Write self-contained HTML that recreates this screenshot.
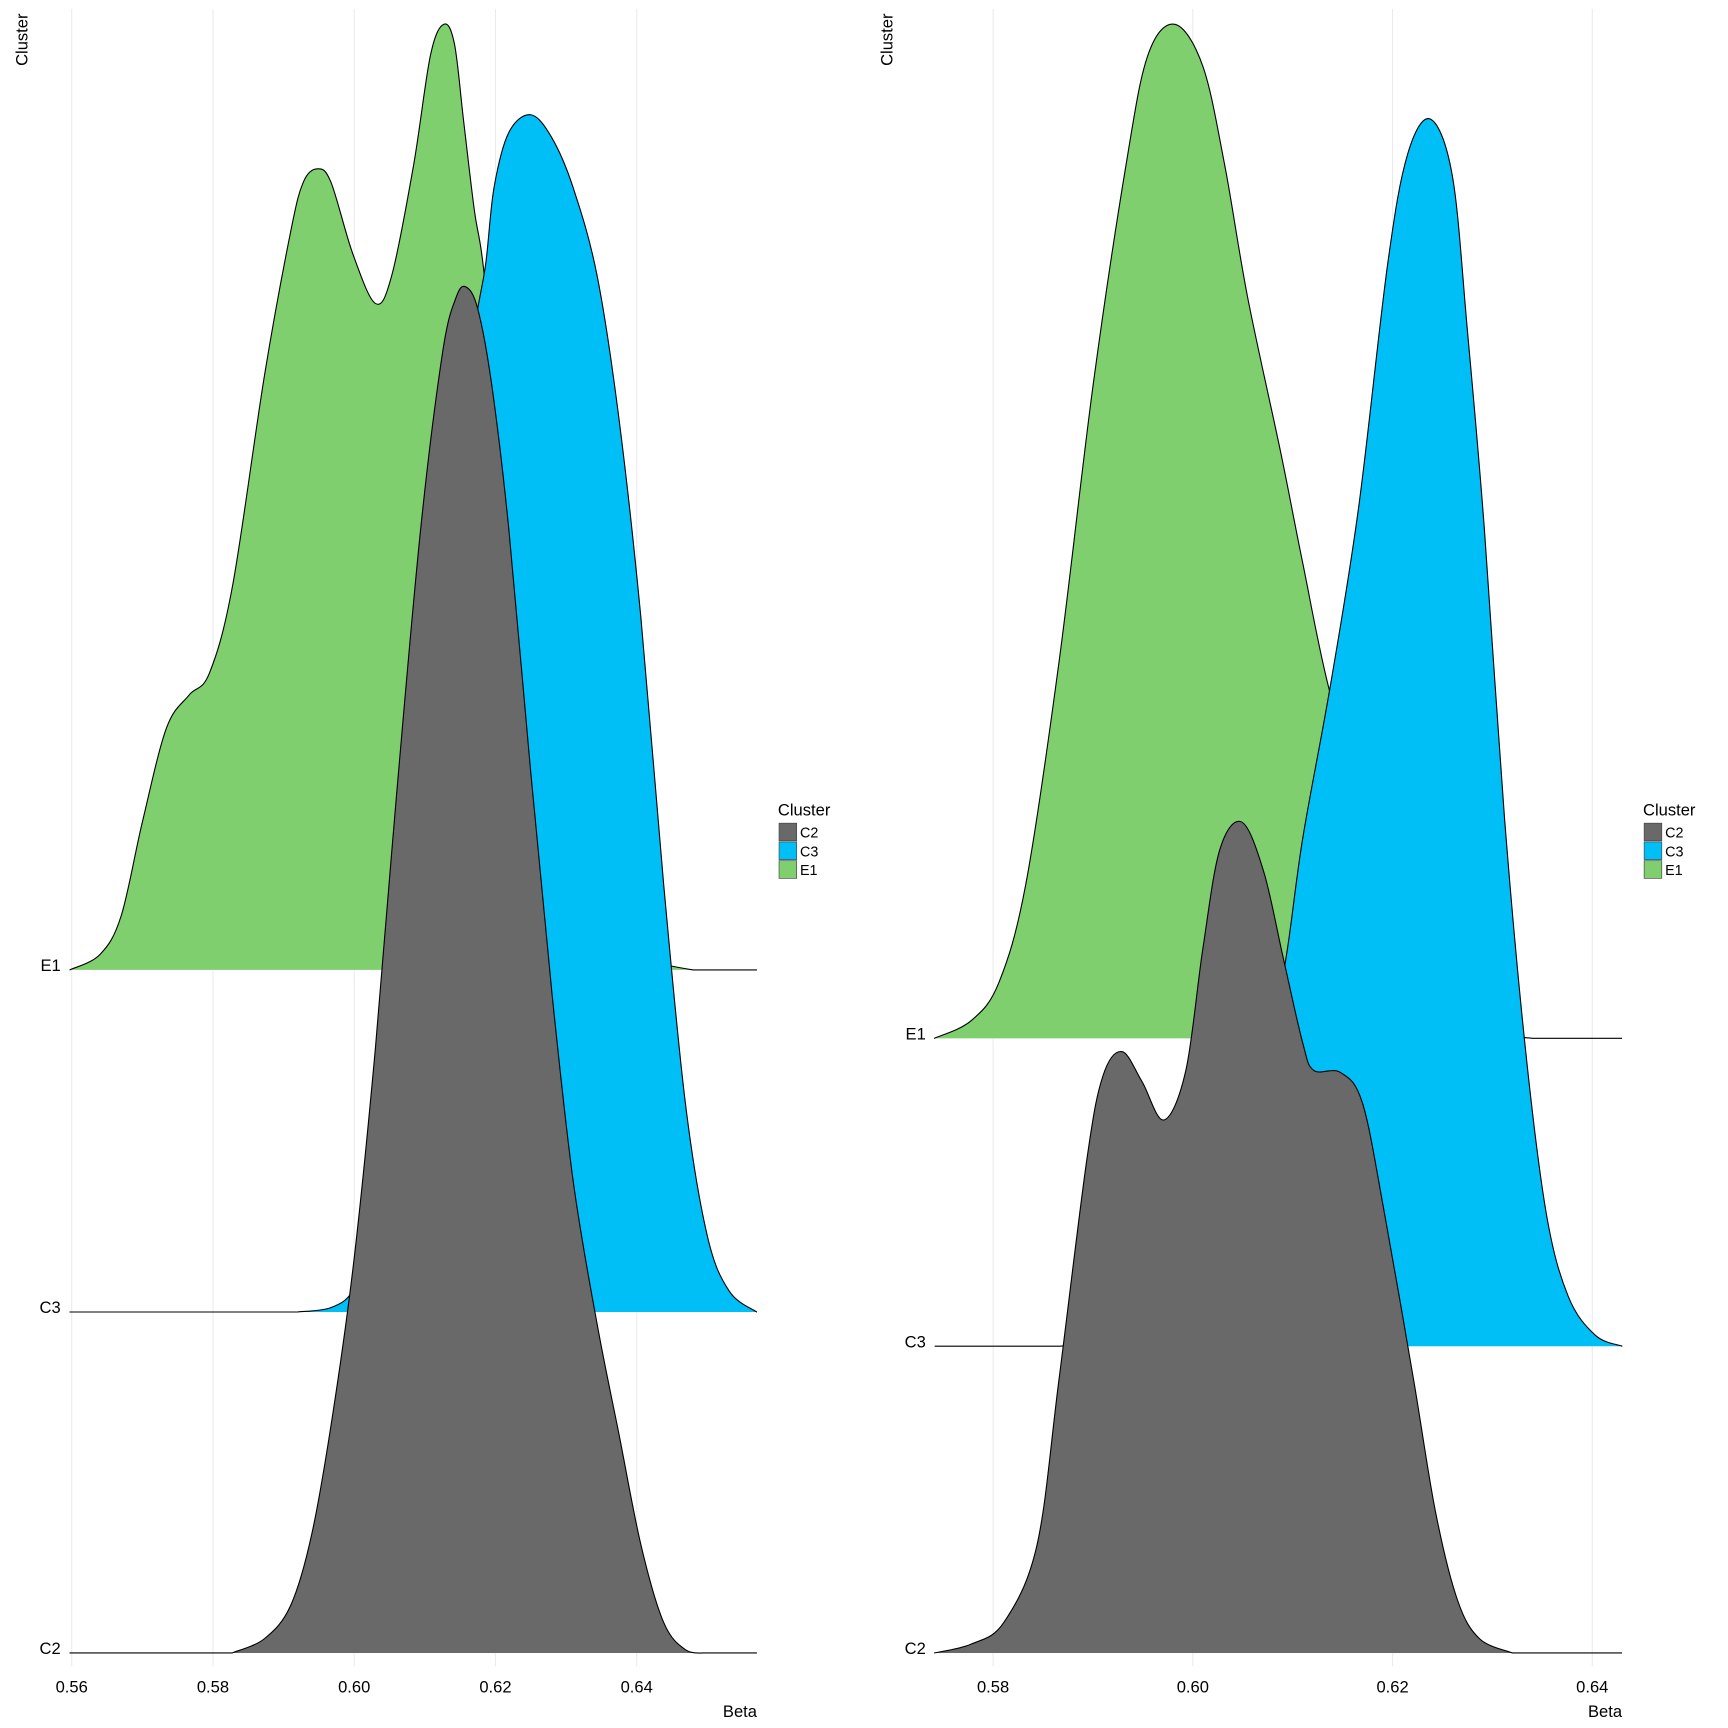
<!DOCTYPE html>
<html><head><meta charset="utf-8"><style>
html,body{margin:0;padding:0;background:#fff}
svg{display:block;font-family:"Liberation Sans",Arial,sans-serif}
</style></head><body>
<svg id="chart" width="1728" height="1728" viewBox="0 0 1566 1566" xmlns="http://www.w3.org/2000/svg"></svg>
<script>
// ---- Data (density heights, arbitrary units) ----
const categories = ["C2","C3","E1"];
const xTicksLeft = [0.56,0.58,0.60,0.62,0.64];
const xTicksRight = [0.58,0.60,0.62,0.64];
// Left panel
const L_E1_x = [0.5597,0.564,0.567,0.570,0.5734,0.5766,0.5795,0.5828,0.5873,0.591,0.5928,0.5948,0.5967,0.5998,0.603,0.6053,0.6084,0.6108,0.6127,0.6142,0.6155,0.617,0.6186,0.622,0.627,0.633,0.6445,0.648];
const L_E1_y = [0,14,49,134,219,249,269,349,539,669,714,726,714,649,604,629,729,829,857,839,769,689,619,379,129,19,4,0];
const L_C3_x = [0.592,0.5967,0.5998,0.6022,0.605,0.610,0.614,0.617,0.6186,0.6198,0.6219,0.625,0.628,0.631,0.6344,0.6375,0.6406,0.6438,0.6469,0.65,0.6531,0.657];
const L_C3_y = [0,4,19,59,189,489,739,889,949,1019,1069,1085,1064,1019,939,809,629,389,189,69,19,0];
const L_C2_x = [0.5827,0.5873,0.591,0.594,0.597,0.600,0.603,0.606,0.6094,0.6125,0.6144,0.6158,0.6175,0.6195,0.6219,0.625,0.628,0.631,0.6344,0.6375,0.6406,0.6438,0.6469,0.650];
const L_C2_y = [0,13,43,108,218,358,548,778,1018,1178,1228,1238,1218,1148,1018,798,598,428,298,198,98,28,3,0];
// Right panel
const R_E1_x = [0.5741,0.5778,0.5806,0.5833,0.5866,0.590,0.5933,0.5955,0.5982,0.601,0.6032,0.6055,0.6088,0.611,0.6138,0.618,0.622,0.626,0.630,0.634];
const R_E1_y = [0,16,51,141,341,591,791,891,919,881,791,671,531,431,311,191,91,31,6,0];
const R_C3_x = [0.5866,0.596,0.600,0.604,0.607,0.6093,0.611,0.6138,0.6166,0.6195,0.6215,0.6238,0.626,0.6275,0.6292,0.6312,0.6333,0.6354,0.6376,0.6403,0.643];
const R_C3_y = [0,6,20,120,240,350,460,600,760,980,1080,1112,1060,920,740,480,270,120,45,10,0];
const R_C2_x = [0.5741,0.5778,0.5811,0.5844,0.5866,0.5894,0.591,0.5929,0.5949,0.5971,0.5993,0.601,0.6027,0.6049,0.6071,0.6091,0.611,0.6121,0.6148,0.617,0.6192,0.6221,0.6243,0.6265,0.6287,0.632];
const R_C2_y = [0,8,28,98,248,448,523,545,518,483,528,638,728,753,708,628,553,528,526,498,398,248,128,48,13,0];

const svg = document.getElementById('chart');
const NS = "http://www.w3.org/2000/svg";
function el(tag, attrs, parent){const e=document.createElementNS(NS,tag);for(const k in attrs)e.setAttribute(k,attrs[k]);(parent||svg).appendChild(e);return e;}
function smooth(pts){let d="M"+pts[0][0]+","+pts[0][1];for(let i=0;i<pts.length-1;i++){const p0=pts[Math.max(0,i-1)],p1=pts[i],p2=pts[i+1],p3=pts[Math.min(pts.length-1,i+2)];const c1x=p1[0]+(p2[0]-p0[0])/6,c1y=p1[1]+(p2[1]-p0[1])/6,c2x=p2[0]-(p3[0]-p1[0])/6,c2y=p2[1]-(p3[1]-p1[1])/6;d+=" C"+c1x+","+c1y+" "+c2x+","+c2y+" "+p2[0]+","+p2[1];}return d;}

const colors={C2:"#696969",C3:"#00BFF7",E1:"#7FCF6F"};
function panel(cfg){
  const g=el('g',{});  
  const xs=v=>cfg.x0+(v-cfg.v0)*cfg.k;
  cfg.ticks.forEach(t=>{
    const gl=el('line',{x1:xs(t),x2:xs(t),y1:8,y2:1510,stroke:"#ebebeb","stroke-width":1},g);
     
    const tl=el('text',{x:xs(t),y:1534,"font-size":15,"text-anchor":"middle",fill:"#000"},g); tl.textContent=t.toFixed(2);
     
  });
  const order=["E1","C3","C2"];
  order.forEach(c=>{
    const base=cfg.base[c], xa=cfg.data[c][0], ya=cfg.data[c][1];
    const pts=xa.map((v,i)=>[xs(v),base-ya[i]*cfg.h]);
    const d=smooth(pts);
    const f=el('path',{d:"M"+cfg.xmin+","+base+" L"+d.slice(1)+" L"+cfg.xmax+","+base+" Z",fill:colors[c],stroke:"none"},g);
     
    const o=el('path',{d:"M"+cfg.xmin+","+base+" L"+d.slice(1)+" L"+cfg.xmax+","+base,fill:"none",stroke:"#000","stroke-width":1},g);
     
    const lab=el('text',{x:cfg.xmin-8,y:base+1,"font-size":15,"text-anchor":"end",fill:"#000"},g); lab.textContent=c;
     
  });
  const yt=el('text',{transform:"translate("+(cfg.ylx)+",36) rotate(-90)","font-size":15,"text-anchor":"middle"},g); yt.textContent="Cluster";
   
  const xt=el('text',{x:cfg.xmax,y:1556,"font-size":15,"text-anchor":"end"},g); xt.textContent="Beta";
   
  const lg=el('g',{},g);  
  const lt=el('text',{x:cfg.lx,y:739,"font-size":15},lg); lt.textContent="Cluster";
   
  categories.forEach((c,i)=>{
    const r=el('rect',{x:cfg.lx+1,y:746+i*17,width:16,height:16,fill:colors[c],stroke:"#444","stroke-width":0.6},lg);
     
    const t=el('text',{x:cfg.lx+20,y:759+i*17,"font-size":13},lg); t.textContent=c;
     
  });
}
panel({name:"left-panel",x0:65,v0:0.56,k:6400,xmin:63,xmax:686,h:1,ticks:xTicksLeft,ylx:25,lx:705,
  base:{E1:879,C3:1189,C2:1498},
  data:{E1:[L_E1_x,L_E1_y],C3:[L_C3_x,L_C3_y],C2:[L_C2_x,L_C2_y]}});
panel({name:"right-panel",x0:900,v0:0.58,k:9050,xmin:847,xmax:1470,h:1,ticks:xTicksRight,ylx:809,lx:1489,
  base:{E1:941,C3:1220,C2:1498},
  data:{E1:[R_E1_x,R_E1_y],C3:[R_C3_x,R_C3_y],C2:[R_C2_x,R_C2_y]}});
</script>
</body></html>
